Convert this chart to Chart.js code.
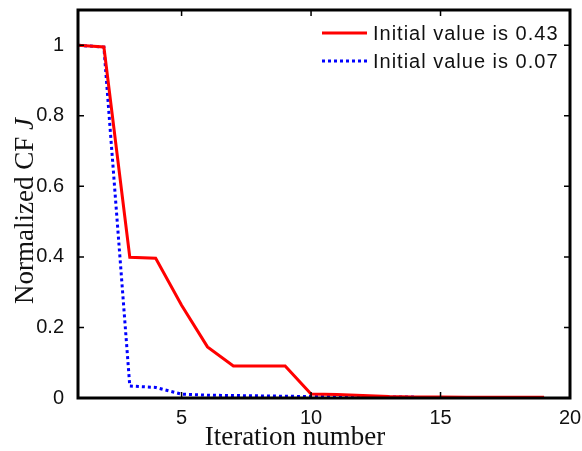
<!DOCTYPE html>
<html>
<head>
<meta charset="utf-8">
<script src="https://cdn.jsdelivr.net/npm/chart.js@4/dist/chart.umd.min.js"></script>
<style>
  html, body { margin: 0; padding: 0; background: #fff; }
  #wrap { width: 582px; height: 451px; position: relative; }
</style>
</head>
<body>
<div id="wrap"><canvas id="chart"></canvas></div>
<script>
// Datos
const iteraciones = [1, 2, 3, 4, 5, 6, 7, 8, 9, 10, 11, 12, 13, 14, 15, 16, 17, 18, 19];
const serieRoja = [1, 0.995, 0.399, 0.396, 0.263, 0.145, 0.091, 0.091, 0.091, 0.011, 0.010, 0.007, 0.004, 0.003, 0.003, 0.002, 0.002, 0.002, 0.002];
const serieAzul = [1, 0.995, 0.034, 0.030, 0.011, 0.008, 0.007, 0.006, 0.005, 0.004, 0.004, 0.003, 0.003, 0.003];
const xTicks = [5, 10, 15, 20];
const yTicks = [0, 0.2, 0.4, 0.6, 0.8, 1];
const etiquetas = ['Initial value is 0.43', 'Initial value is 0.07'];

const fuenteTitulo = '27px "Liberation Serif", "Times New Roman", serif';

// Marco, ticks hacia adentro, titulos y leyenda al estilo MATLAB
const marcoPlugin = {
  id: 'marco',
  afterDraw(chart) {
    const { ctx, chartArea: a, scales } = chart;
    ctx.save();
    ctx.strokeStyle = '#000';
    ctx.lineWidth = 1.5;
    const t = 6;
    ctx.beginPath();
    xTicks.forEach(v => {
      const x = scales.x.getPixelForValue(v);
      ctx.moveTo(x, a.bottom); ctx.lineTo(x, a.bottom - t);
      ctx.moveTo(x, a.top); ctx.lineTo(x, a.top + t);
    });
    yTicks.forEach(v => {
      const y = scales.y.getPixelForValue(v);
      ctx.moveTo(a.left, y); ctx.lineTo(a.left + t, y);
      ctx.moveTo(a.right, y); ctx.lineTo(a.right - t, y);
    });
    ctx.stroke();

    ctx.lineWidth = 3;
    ctx.strokeRect(a.left, a.top, a.right - a.left, a.bottom - a.top);

    // Leyenda
    const items = [
      { color: '#ff0000', dash: [] },
      { color: '#0000ff', dash: [3, 3] }
    ];
    ctx.font = '20px "Liberation Sans", Arial, sans-serif';
    ctx.textBaseline = 'middle';
    ctx.textAlign = 'left';
    items.forEach((it, i) => {
      const y = 33 + i * 28;
      ctx.beginPath();
      ctx.strokeStyle = it.color;
      ctx.lineWidth = 3;
      ctx.setLineDash(it.dash);
      ctx.moveTo(322, y); ctx.lineTo(367, y);
      ctx.stroke();
      ctx.setLineDash([]);
      ctx.fillStyle = '#111';
      ctx.letterSpacing = '1px';
      ctx.fillText(etiquetas[i], 373, y + 1);
      ctx.letterSpacing = '0px';
    });

    // Titulo eje Y con J en cursiva
    ctx.save();
    ctx.translate(33, 211);
    ctx.rotate(-Math.PI / 2);
    ctx.fillStyle = '#111';
    ctx.textBaseline = 'alphabetic';
    const base = 'Normalized CF ';
    ctx.font = fuenteTitulo;
    const w1 = ctx.measureText(base).width;
    ctx.font = 'italic ' + fuenteTitulo;
    const w2 = ctx.measureText('J').width;
    const x0 = -(w1 + w2) / 2;
    ctx.font = fuenteTitulo;
    ctx.fillText(base, x0, 0);
    ctx.font = 'italic ' + fuenteTitulo;
    ctx.fillText('J', x0 + w1, 0);
    ctx.restore();

    // Titulo eje X
    ctx.font = fuenteTitulo;
    ctx.textAlign = 'center';
    ctx.textBaseline = 'alphabetic';
    ctx.fillStyle = '#111';
    ctx.fillText('Iteration number', 295, 445);
    ctx.restore();
  }
};

new Chart(document.getElementById('chart'), {
  type: 'line',
  data: {
    datasets: [{
      label: etiquetas[0],
      data: iteraciones.map((x, i) => ({ x, y: serieRoja[i] })),
      borderColor: '#ff0000',
      borderWidth: 3,
      pointRadius: 0,
      tension: 0
    }, {
      label: etiquetas[1],
      data: serieAzul.map((y, i) => ({ x: iteraciones[i], y })),
      borderColor: '#0000ff',
      borderWidth: 3,
      borderDash: [3, 3],
      pointRadius: 0,
      tension: 0
    }]
  },
  options: {
    responsive: true,
    maintainAspectRatio: false,
    animation: false,
    layout: { padding: { top: 10, right: 12, left: 0, bottom: 0 } },
    plugins: { legend: { display: false }, tooltip: { enabled: false } },
    scales: {
      x: {
        type: 'linear',
        min: 1,
        max: 20,
        afterBuildTicks: s => { s.ticks = xTicks.map(v => ({ value: v })); },
        afterFit: s => { s.height = 53; s.paddingLeft = 0; s.paddingRight = 0; },
        grid: { display: false },
        border: { display: false },
        ticks: { color: '#111', font: { family: '"Liberation Sans", Arial, sans-serif', size: 20 }, padding: 0, maxRotation: 0 }
      },
      y: {
        min: 0,
        max: 1.1,
        afterBuildTicks: s => { s.ticks = yTicks.map(v => ({ value: v })); },
        afterFit: s => { s.width = 78; s.paddingTop = 0; s.paddingBottom = 0; },
        grid: { display: false },
        border: { display: false },
        ticks: {
          color: '#111',
          font: { family: '"Liberation Sans", Arial, sans-serif', size: 20 },
          padding: 6,
          callback: v => String(Math.round(v * 10) / 10)
        }
      }
    }
  },
  plugins: [marcoPlugin]
});
</script>
</body>
</html>
